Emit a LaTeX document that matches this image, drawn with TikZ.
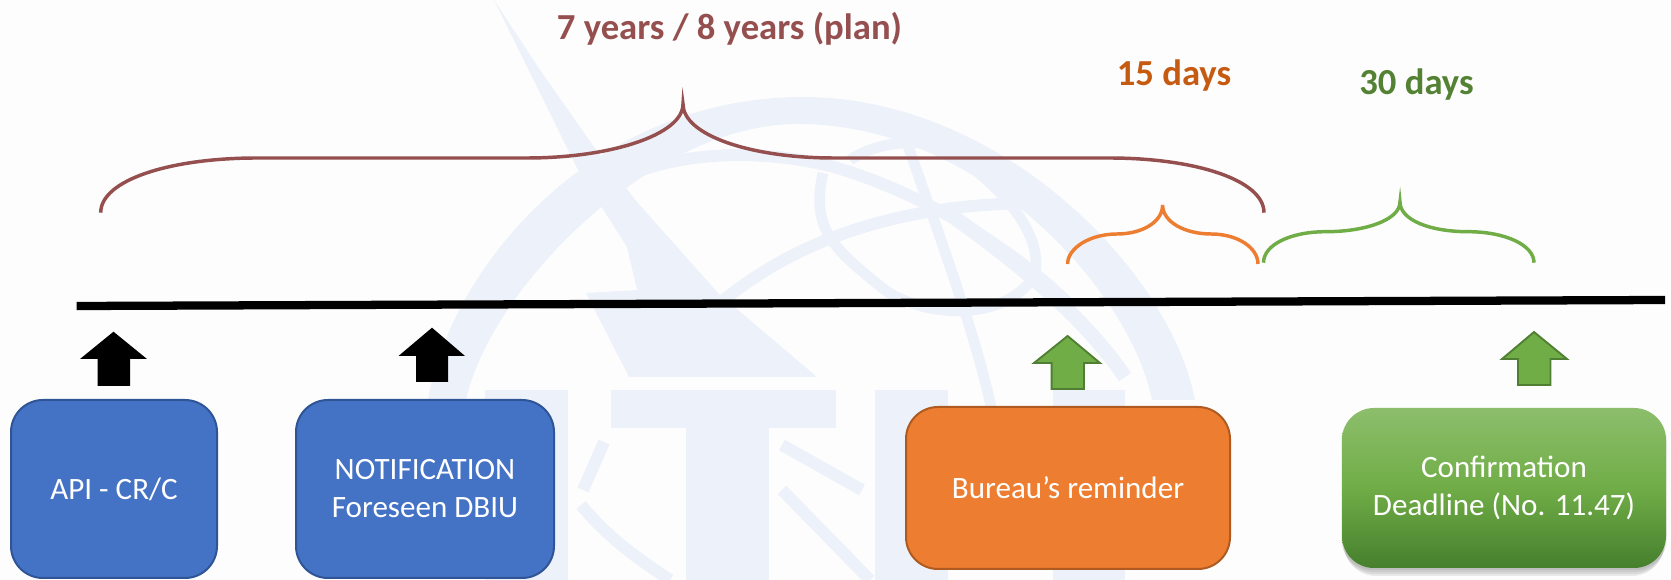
\documentclass[tikz,border=0pt]{standalone}
\usepackage{fontspec}
\setmainfont{Carlito}
\definecolor{wm}{HTML}{EDF2FA}
\definecolor{bgc}{HTML}{FDFDFD}
\definecolor{bluef}{HTML}{4472C4}
\definecolor{blued}{HTML}{2F5597}
\definecolor{orangef}{HTML}{ED7D31}
\definecolor{oranged}{HTML}{AE5A21}
\definecolor{greenf}{HTML}{70AD47}
\definecolor{greend}{HTML}{507E32}
\definecolor{maroon}{HTML}{954F4F}
\definecolor{ot}{HTML}{C55A11}
\definecolor{gt}{HTML}{548235}
\tikzset{
  px/.style={x=0.75pt,y=-0.75pt},
  box/.style={rounded corners=24pt,text=white,align=center,inner sep=0pt,font=\fontsize{23.3}{28.5}\selectfont},
  bluebox/.style={box,fill=bluef,draw=blued,line width=1.5pt},
  orangebox/.style={box,fill=orangef,draw=oranged,line width=1.5pt},
  greenbox/.style={box,top color=green!0!greenf!80!white,bottom color=greenf!90!green!70!black,middle color=greenf},
  brace/.style={line width=2.6pt},
  lab/.style={anchor=base,font=\fontsize{27.5}{33}\selectfont\bfseries},
  black arrow/.style={fill=black},
  green arrow/.style={fill=greenf,draw=greend,line width=1.4pt},
  wmband/.style={draw=wm,line cap=butt,fill=none},
}
\begin{document}
\begin{tikzpicture}[px]
\useasboundingbox (0,0) rectangle (1671,580);
\fill[bgc] (0,0) rectangle (1671,580);
% watermark
\begin{scope}
\clip (0,0) rectangle (1671,580);
% outer ring
\fill[wm] (428,400) .. controls (450,270) and (590,97) .. (803,97)
  .. controls (1000,97) and (1170,270) .. (1195,400) -- (1152,400)
  .. controls (1130,290) and (980,124) .. (798,124)
  .. controls (650,124) and (490,290) .. (466,400) -- cycle;
% swoosh
\fill[wm] (494,0) -- (578,170) -- (594,195) -- (627,247) -- (637,290) -- (586,293) -- (629,377) -- (817,377) -- (718,293) -- (637,202) -- (594,147) -- (540,70) -- cycle;
% globe bands
\draw[wmband,line width=9pt] (624,177) .. controls (680,152) and (760,148) .. (834,167) .. controls (930,195) and (1020,255) .. (1070,305);
\draw[wmband,line width=9pt] (712,310) .. controls (780,250) and (880,205) .. (1030,203);
\draw[wmband,line width=8pt] (905,137) .. controls (930,210) and (975,330) .. (991,407);
\draw[wmband,line width=8pt] (823,173) .. controls (810,230) and (835,250) .. (885,290) .. controls (920,315) and (1000,325) .. (1034,277) .. controls (1045,240) and (1010,190) .. (943,147) .. controls (920,140) and (880,140) .. (850,160);
\draw[wmband,line width=11pt] (948,213) .. controls (1000,250) and (1080,310) .. (1125,377);
% letters
\fill[wm] (485,390) rectangle (568,580);
\fill[wm] (611,390) rectangle (836,428);
\fill[wm] (686,390) rectangle (769,580);
\fill[wm] (875,390) rectangle (948,580);
\fill[wm] (1053,390) rectangle (1125,580);
\draw[wmband,line width=9pt] (604,442) -- (583,490);
\draw[wmband,line width=9pt] (581,505) .. controls (610,540) and (640,560) .. (670,580);
\draw[wmband,line width=9pt] (782,445) -- (862,490);
\draw[wmband,line width=9pt] (782,490) -- (870,580);
\end{scope}
% timeline
\coordinate (tl) at (76.6,306);
\coordinate (tr) at (1665,300);
\draw[line width=6.2pt] (tl) -- (tr);
% braces
\coordinate (m0) at (100.7,212.7);
\coordinate (m1) at (683,104);
\coordinate (m2) at (1264,212.7);
\draw[brace,maroon] (m0) .. controls (100.7,180) and (170,158) .. (257,158) -- (527,158)
  .. controls (610,158) and (683,135) .. (m1)
  .. controls (683,135) and (750,158) .. (834,158) -- (1109,158)
  .. controls (1195,158) and (1264,180) .. (m2);
\coordinate (o0) at (1067.6,264);
\coordinate (o1) at (1162.6,205);
\coordinate (o2) at (1258,264);
\draw[brace,orangef] (o0) .. controls (1067.6,248) and (1090,234) .. (1117,234)
  .. controls (1142,234) and (1162.6,222) .. (o1)
  .. controls (1162.6,222) and (1185,234) .. (1211,234)
  .. controls (1238,234) and (1258,248) .. (o2);
\coordinate (g0) at (1263.5,262.7);
\coordinate (g1) at (1400,202);
\coordinate (g2) at (1534,262.7);
\draw[brace,greenf] (g0) .. controls (1263.5,245) and (1290,231.7) .. (1326,231.7)
  .. controls (1365,231.7) and (1400,220) .. (g1)
  .. controls (1400,220) and (1430,231.7) .. (1468,231.7)
  .. controls (1505,231.7) and (1534,245) .. (g2);
% labels
\node[lab,text=maroon] (t1) at (729.5,40) {7 years / 8 years (plan)};
\node[lab,text=ot] (t2) at (1174,86) {15 days};
\node[lab,text=gt] (t3) at (1416.5,95) {30 days};
% arrows
\fill[black arrow] (113.5,331.7) -- (147,359) -- (130,359) -- (130,386) -- (97.5,386) -- (97.5,359) -- (80,359) -- cycle;
\fill[black arrow] (432,327.7) -- (465,356) -- (448,356) -- (448,382) -- (416,382) -- (416,356) -- (398.5,356) -- cycle;
\filldraw[green arrow] (1067.6,336) -- (1100,363) -- (1084,363) -- (1084,389) -- (1051.6,389) -- (1051.6,363) -- (1034,363) -- cycle;
\filldraw[green arrow] (1534,332) -- (1567,359) -- (1550.5,359) -- (1550.5,385) -- (1518,385) -- (1518,359) -- (1502,359) -- cycle;
% boxes
\node[bluebox,minimum width=154.5pt,minimum height=133.5pt] (b1) at (114,489) {API - CR/C};
\node[bluebox,minimum width=193.5pt,minimum height=133.5pt] (b2) at (425,489) {NOTIFICATION\\Foreseen DBIU};
\node[orangebox,minimum width=243pt,minimum height=121.5pt] (b3) at (1068,488) {Bureau’s reminder};
\foreach \k/\o in {1/.06,2/.06,3/.07,4/.08}
  \fill[black,opacity=\o,rounded corners=24pt] (1342+\k-2,408+\k) rectangle (1666+2-\k,568+2*\k);
\node[greenbox,minimum width=243pt,minimum height=120pt] (b4) at (1504,488) {Confirmation\\Deadline (No. 11.47)};
\end{tikzpicture}
\end{document}
